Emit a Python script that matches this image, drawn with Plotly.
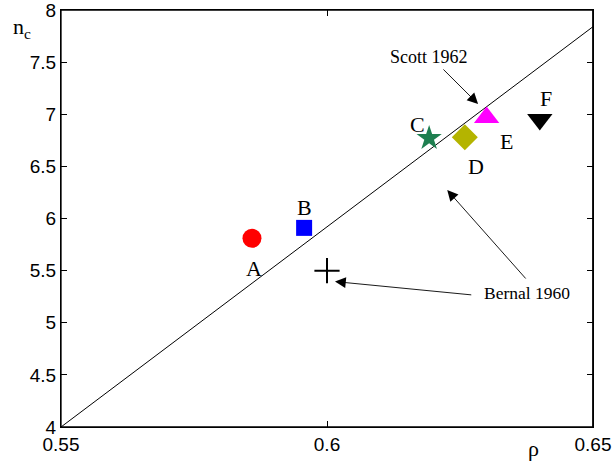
import plotly.graph_objects as go

# Data
labels = ["A", "B", "C", "D", "E", "F"]
rho = [0.5859, 0.5957, 0.6192, 0.6259, 0.6300, 0.6400]
nc = [5.81, 5.91, 6.77, 6.78, 6.97, 6.95]
bernal_rho = [0.600]
bernal_nc = [5.50]
line_rho = [0.55, 0.65]
line_nc = [4.0, 7.84]
x_range = [0.55, 0.65]
y_range = [4, 8]
x_ticks = [0.55, 0.6, 0.65]
x_ticklabels = ["0.55", "0.6", "0.65"]
y_ticks = [4, 4.5, 5, 5.5, 6, 6.5, 7, 7.5, 8]
y_ticklabels = ["4", "4.5", "5", "5.5", "6", "6.5", "7", "7.5", "8"]

styles = {
    "A": dict(symbol="circle", size=19, color="#ff0000"),
    "B": dict(symbol="square", size=16, color="#0000ff"),
    "C": dict(symbol="star", size=19, color="#1e7f50"),
    "D": dict(symbol="diamond", size=20, color="#b4b400"),
    "E": dict(symbol="triangle-up", size=22, color="#ff00ff"),
    "F": dict(symbol="triangle-down", size=22, color="#000000"),
}
label_shift = {
    "A": (2, -30), "B": (0, 20), "C": (-12, 14),
    "D": (11, -29), "E": (20, -24), "F": (6, 21),
}

serif = "Liberation Serif, Times New Roman, serif"
sans = "Liberation Sans, Arial, sans-serif"

W, H = 613, 466
ml, mr, mt, mb = 61, 20, 10, 39
pw, ph = W - ml - mr, H - mt - mb

fig = go.Figure()
fig.add_trace(go.Scatter(x=line_rho, y=line_nc, mode="lines",
                         line=dict(color="black", width=1), showlegend=False,
                         hoverinfo="skip"))
# right frame edge drawn as a line at the end of the x range
fig.add_trace(go.Scatter(x=[x_range[1], x_range[1]], y=y_range, mode="lines",
                         line=dict(color="black", width=1.4), showlegend=False,
                         hoverinfo="skip", cliponaxis=False))
for lab, xv, yv in zip(labels, rho, nc):
    s = styles[lab]
    fig.add_trace(go.Scatter(x=[xv], y=[yv], mode="markers", showlegend=False,
                             marker=dict(symbol=s["symbol"], size=s["size"],
                                         color=s["color"], line=dict(width=0))))
fig.add_trace(go.Scatter(x=bernal_rho, y=bernal_nc, mode="markers", showlegend=False,
                         marker=dict(symbol="cross-thin", size=18,
                                     line=dict(color="black", width=2))))

annotations = []
for lab, xv, yv in zip(labels, rho, nc):
    dx, dy = label_shift[lab]
    annotations.append(dict(x=xv, y=yv, xref="x", yref="y", text=lab, showarrow=False,
                            xshift=dx, yshift=dy,
                            font=dict(family=serif, size=22, color="black")))

# arrows
arrow_common = dict(xref="x", yref="y", axref="x", ayref="y", text="", showarrow=True,
                    arrowhead=2, arrowsize=2.4, arrowwidth=0.9, arrowcolor="black")
annotations.append(dict(x=0.6284, y=7.098, ax=0.6216, ay=7.444, **arrow_common))
annotations.append(dict(x=0.6015, y=5.395, ax=0.6274, ay=5.266, **arrow_common))
annotations.append(dict(x=0.6226, y=6.273, ax=0.6376, ay=5.41, **arrow_common))
annotations.append(dict(x=0.6192, y=7.549, xref="x", yref="y", text="Scott 1962",
                        showarrow=False, font=dict(family=serif, size=18, color="black")))
annotations.append(dict(x=0.6376, y=5.285, xref="x", yref="y", text="Bernal 1960",
                        showarrow=False, font=dict(family=serif, size=17.5, color="black")))
# axis labels (positions given in pixels from top-left, converted to paper)
for txt, px, py in [("n<sub>c</sub>", 22, 28), ("ρ", 533, 449)]:
    annotations.append(dict(x=(px - ml) / pw, y=(H - py - mb) / ph,
                            xref="paper", yref="paper", text=txt, showarrow=False,
                            xanchor="center", yanchor="middle",
                            font=dict(family=serif, size=22, color="black")))

axis_common = dict(showgrid=False, zeroline=False, showline=True, linecolor="black",
                   linewidth=1.3, mirror="allticks", ticks="inside", ticklen=6,
                   tickcolor="black", automargin=False, ticklabeloverflow="allow",
                   tickfont=dict(family=sans, size=19, color="black"))
fig.update_layout(
    width=W, height=H,
    margin=dict(l=ml, r=mr, t=mt, b=mb, autoexpand=False),
    paper_bgcolor="white", plot_bgcolor="white",
    annotations=annotations,
    shapes=[dict(type="rect", xref="paper", yref="paper", x0=0, x1=1, y0=0, y1=1,
                 line=dict(color="black", width=1.3), fillcolor="rgba(0,0,0,0)",
                 layer="above")],
    xaxis=dict(range=x_range, tickvals=x_ticks, ticktext=x_ticklabels, **axis_common),
    yaxis=dict(range=y_range, tickvals=y_ticks, ticktext=y_ticklabels, **axis_common),
)
fig.write_html("out.html", config={"displayModeBar": False},
               post_script="document.body.style.margin='0';document.body.style.overflow='hidden';")
